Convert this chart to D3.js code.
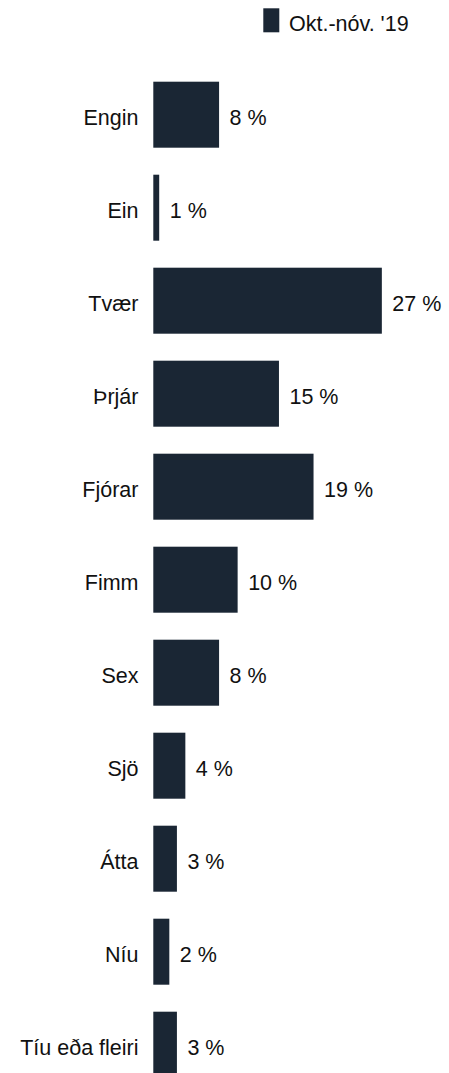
<!DOCTYPE html>
<html>
<head>
<meta charset="utf-8">
<script src="https://cdn.jsdelivr.net/npm/d3@7"></script>
<style>
  html, body { margin: 0; padding: 0; background: #ffffff; }
  svg { display: block; }
  text { font-family: "Liberation Sans", Arial, sans-serif; fill: #111111; }
</style>
</head>
<body>
<div id="chart"></div>
<script>
const categories = ["Engin", "Ein", "Tvær", "Þrjár", "Fjórar", "Fimm", "Sex", "Sjö", "Átta", "Níu", "Tíu eða fleiri"];
const values = [7.8, 0.7, 27.1, 14.9, 19.0, 10.0, 7.8, 3.8, 2.8, 1.9, 2.8];
const seriesName = "Okt.-nóv. '19";
const barColor = "#1a2634";

const W = 449, H = 1073;
const svg = d3.select("#chart").append("svg").attr("width", W).attr("height", H);

const x = d3.scaleLinear().domain([0, 30]).range([153.3, 153.3 + 253]);
const step = 93;
const pInner = 27 / 93;
const y = d3.scaleBand()
  .domain(categories)
  .range([68.2, 68.2 + step * categories.length])
  .paddingInner(pInner)
  .paddingOuter(pInner / 2);

const data = categories.map((c, i) => ({ c, v: values[i] }));

svg.append("g").selectAll("rect").data(data).join("rect")
  .attr("x", x(0))
  .attr("y", d => y(d.c))
  .attr("width", d => x(d.v) - x(0))
  .attr("height", y.bandwidth())
  .attr("fill", barColor);

svg.append("g").selectAll("text").data(data).join("text")
  .attr("x", d => x(d.v) + 10.5)
  .attr("y", d => y(d.c) + y.bandwidth() / 2 + 10.5)
  .attr("font-size", "21.5px")
  .text(d => d3.format(".0f")(d.v) + " %");

// category axis labels
const yAxis = d3.axisLeft(y).tickSize(0).tickPadding(0);
const gAxis = svg.append("g").attr("transform", `translate(${138.5},0)`).call(yAxis);
gAxis.select(".domain").remove();
gAxis.selectAll("text")
  .attr("font-size", "21.5px")
  .attr("font-family", "'Liberation Sans', Arial, sans-serif")
  .attr("fill", "#111111")
  .attr("dy", null)
  .attr("y", 10.5);

// legend
const lg = svg.append("g");
lg.append("rect").attr("x", 263.3).attr("y", 8.3).attr("width", 16).attr("height", 24).attr("fill", barColor);
lg.append("text").attr("x", 289).attr("y", 30.5).attr("font-size", "21.5px").text(seriesName);
</script>
</body>
</html>
